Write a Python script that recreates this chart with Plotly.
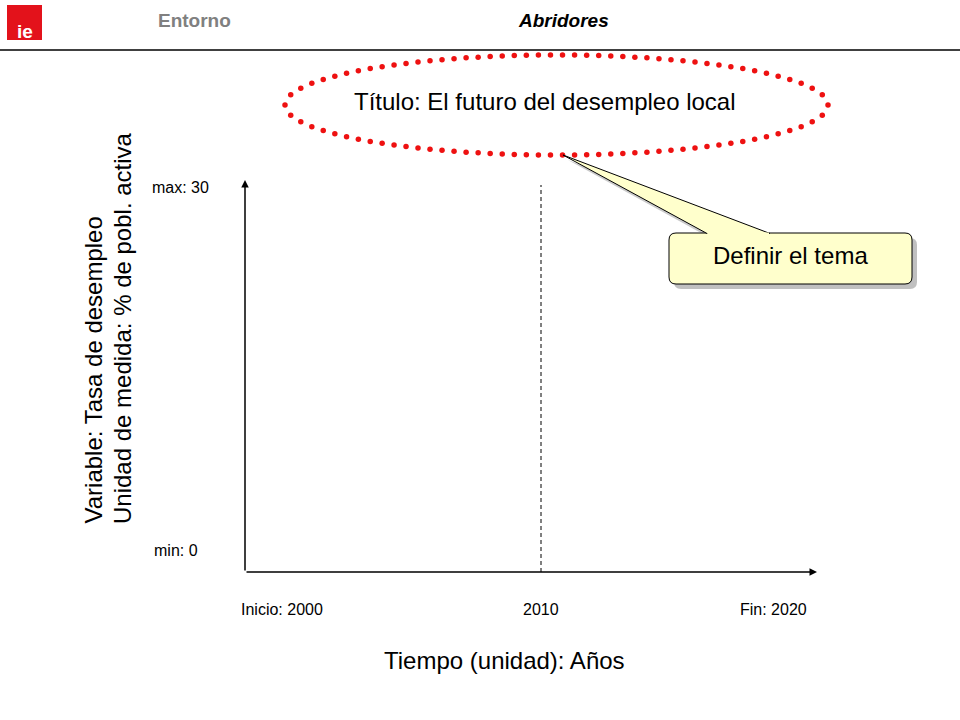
import numpy as np
import plotly.graph_objects as go

# ---- data ----
years = [2000, 2010, 2020]
year_labels = ["Inicio: 2000", "2010", "Fin: 2020"]
y_values = [0, 30]
y_labels = ["min: 0", "max: 30"]
marker_year = 2010
title_text = "Título: El futuro del desempleo local"
callout_text = "Definir el tema"
y_title_lines = ["Variable: Tasa de desempleo", "Unidad de medida: % de pobl. activa"]
x_title = "Tiempo (unidad): Años"

W, H = 960, 720
FONT = "Liberation Sans, Arial, sans-serif"

# main data axes mapped so that 2000 -> 245px, 2010 -> 541px ; 0 -> 572px, 30 -> 185px
px_per_year = (541 - 245) / 10.0
x0 = years[0] - 245 / px_per_year
x1 = x0 + W / px_per_year
px_per_unit = (572 - 185) / 30.0
y0 = y_values[0] - (H - 572) / px_per_unit
y1 = y_values[1] + 185 / px_per_unit

fig = go.Figure()

# dashed reference line at 2010 (data)
fig.add_trace(go.Scatter(x=[marker_year, marker_year], y=y_values, mode="lines",
                         line=dict(color="black", width=1, dash="4px,3px"),
                         hoverinfo="skip", showlegend=False, xaxis="x", yaxis="y"))

# dotted red ellipse (decoration) in pixel overlay
cx, cy, rx, ry = 556.5, 105, 271.5, 50
t = np.linspace(0, 2 * np.pi, 4000)
ex = cx + rx * np.cos(t)
ey = cy + ry * np.sin(t)
seg = np.hypot(np.diff(ex), np.diff(ey))
cum = np.concatenate([[0], np.cumsum(seg)])
n = int(round(cum[-1] / 12.0))
targets = np.linspace(0, cum[-1], n, endpoint=False)
dx = np.interp(targets, cum, ex)
dy = np.interp(targets, cum, ey)
fig.add_trace(go.Scatter(x=dx, y=dy, mode="markers",
                         marker=dict(color="#EE1111", size=5.5, line=dict(width=0)),
                         hoverinfo="skip", showlegend=False, xaxis="x2", yaxis="y2"))

shapes = []
# header line
shapes.append(dict(type="line", xref="x2", yref="y2", x0=0, x1=960, y0=50, y1=50,
                   line=dict(color="black", width=1.5)))
# logo
shapes.append(dict(type="rect", xref="x2", yref="y2", x0=7, x1=42, y0=5, y1=40,
                   fillcolor="#E3121B", line=dict(width=0)))


def rrect(xa, ya, xb, yb, r):
    return (f"M{xa+r},{ya} L{xb-r},{ya} Q{xb},{ya} {xb},{ya+r} L{xb},{yb-r} Q{xb},{yb} {xb-r},{yb} "
            f"L{xa+r},{yb} Q{xa},{yb} {xa},{yb-r} L{xa},{ya+r} Q{xa},{ya} {xa+r},{ya} Z")


bx0, by0, bx1, by1 = 669, 233, 912, 284
tip = (563, 155)
base_l, base_r = 707, 770
off = 5
# shadows
shapes.append(dict(type="path", xref="x2", yref="y2",
                   path=rrect(bx0 + off, by0 + off, bx1 + off, by1 + off, 7),
                   fillcolor="rgba(150,150,150,0.6)", line=dict(width=0)))
shapes.append(dict(type="path", xref="x2", yref="y2",
                   path=f"M{tip[0]+off},{tip[1]+off} L{base_l+off},{by0+off+1} L{base_r+off},{by0+off+1} Z",
                   fillcolor="rgba(150,150,150,0.5)", line=dict(width=0)))
# callout box
shapes.append(dict(type="path", xref="x2", yref="y2", path=rrect(bx0, by0, bx1, by1, 7),
                   fillcolor="#FFFFCC", line=dict(color="black", width=1)))
# pointer
shapes.append(dict(type="path", xref="x2", yref="y2",
                   path=f"M{base_l},{by0+0.5} L{tip[0]},{tip[1]} L{base_r},{by0+0.5}",
                   fillcolor="#FFFFCC", line=dict(color="black", width=1)))
shapes.append(dict(type="line", xref="x2", yref="y2", x0=base_l + 1, x1=base_r - 1,
                   y0=by0 + 0.5, y1=by0 + 0.5, line=dict(color="#FFFFCC", width=2)))

annotations = []
# axis arrows
annotations.append(dict(xref="x2", yref="y2", axref="x2", ayref="y2",
                        x=245, y=180, ax=245, ay=572, text="", showarrow=True,
                        arrowhead=2, arrowsize=1, arrowwidth=1.5, arrowcolor="black"))
annotations.append(dict(xref="x2", yref="y2", axref="x2", ayref="y2",
                        x=817, y=572, ax=245, ay=572, text="", showarrow=True,
                        arrowhead=2, arrowsize=1, arrowwidth=1.5, arrowcolor="black"))

# header texts
annotations.append(dict(xref="x2", yref="y2", x=194, y=20, text="<b>Entorno</b>", showarrow=False,
                        font=dict(family=FONT, size=19, color="#808080")))
annotations.append(dict(xref="x2", yref="y2", x=563, y=20, text="<b><i>Abridores</i></b>", showarrow=False,
                        font=dict(family=FONT, size=19, color="black")))
annotations.append(dict(xref="x2", yref="y2", x=25, y=31, text="<b>ie</b>", showarrow=False,
                        font=dict(family=FONT, size=19, color="white")))

# title in ellipse
annotations.append(dict(xref="x2", yref="y2", x=545, y=101, text=title_text, showarrow=False,
                        font=dict(family=FONT, size=24, color="black")))
# callout text
annotations.append(dict(xref="x2", yref="y2", x=790, y=255, text=callout_text, showarrow=False,
                        font=dict(family=FONT, size=24, color="black")))

# y tick labels (data positions)
annotations.append(dict(xref="x2", yref="y", x=211, y=y_values[1], text=y_labels[1], showarrow=False,
                        xanchor="right", yshift=-2, font=dict(family=FONT, size=16, color="black")))
annotations.append(dict(xref="x2", yref="y", x=200, y=y_values[0], text=y_labels[0], showarrow=False,
                        xanchor="right", yshift=22, font=dict(family=FONT, size=16, color="black")))

# x tick labels
annotations.append(dict(xref="x", yref="y2", x=years[0], y=609, text=year_labels[0], showarrow=False,
                        xanchor="left", xshift=-6, font=dict(family=FONT, size=16, color="black")))
annotations.append(dict(xref="x", yref="y2", x=years[1], y=609, text=year_labels[1], showarrow=False,
                        xanchor="center", font=dict(family=FONT, size=16, color="black")))
annotations.append(dict(xref="x", yref="y2", x=years[2], y=609, text=year_labels[2], showarrow=False,
                        xanchor="right", xshift=-28, font=dict(family=FONT, size=16, color="black")))

# axis titles
annotations.append(dict(xref="x2", yref="y2", x=504, y=660, text=x_title, showarrow=False,
                        font=dict(family=FONT, size=24, color="black")))
annotations.append(dict(xref="x2", yref="y2", x=93, y=526, text=y_title_lines[0], showarrow=False,
                        textangle=-90, xanchor="center", yanchor="bottom",
                        font=dict(family=FONT, size=24, color="black")))
annotations.append(dict(xref="x2", yref="y2", x=122, y=526, text=y_title_lines[1], showarrow=False,
                        textangle=-90, xanchor="center", yanchor="bottom",
                        font=dict(family=FONT, size=24, color="black")))

fig.update_layout(
    width=W, height=H,
    margin=dict(l=0, r=0, t=0, b=0),
    paper_bgcolor="white", plot_bgcolor="white",
    xaxis=dict(range=[x0, x1], visible=False, domain=[0, 1], fixedrange=True),
    yaxis=dict(range=[y0, y1], visible=False, domain=[0, 1], fixedrange=True),
    xaxis2=dict(range=[0, W], visible=False, overlaying="x", fixedrange=True),
    yaxis2=dict(range=[H, 0], visible=False, overlaying="y", fixedrange=True),
    shapes=shapes,
    annotations=annotations,
    showlegend=False,
)

fig.write_html("out.html", config={"displayModeBar": False},
               post_script="document.body.style.margin='0';")
